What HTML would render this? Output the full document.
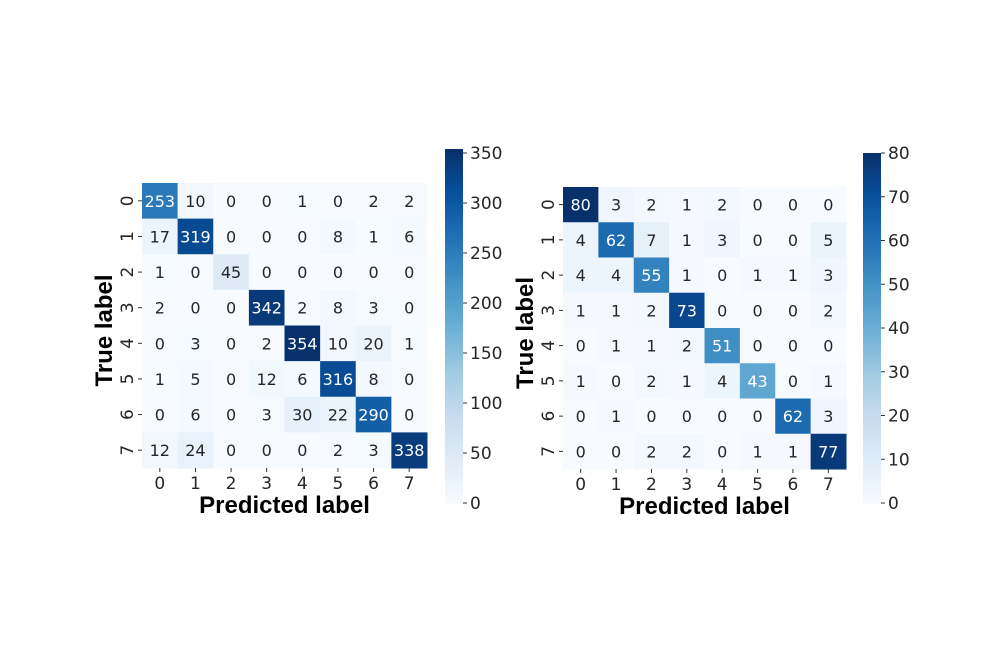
<!DOCTYPE html>
<html><head><meta charset="utf-8"><style>
html,body{margin:0;padding:0;background:#fff}
svg{display:block;font-family:"DejaVu Sans","Liberation Sans",sans-serif}
</style></head><body>
<svg id="c" width="996" height="664" viewBox="0 0 996 664"></svg>
<script>
const classes=[0,1,2,3,4,5,6,7];
const matrixA=[[253,10,0,0,1,0,2,2],[17,319,0,0,0,8,1,6],[1,0,45,0,0,0,0,0],[2,0,0,342,2,8,3,0],[0,3,0,2,354,10,20,1],[1,5,0,12,6,316,8,0],[0,6,0,3,30,22,290,0],[12,24,0,0,0,2,3,338]];
const matrixB=[[80,3,2,1,2,0,0,0],[4,62,7,1,3,0,0,5],[4,4,55,1,0,1,1,3],[1,1,2,73,0,0,0,2],[0,1,1,2,51,0,0,0],[1,0,2,1,4,43,0,1],[0,1,0,0,0,0,62,3],[0,0,2,2,0,1,1,77]];
const ticksA=[0,50,100,150,200,250,300,350];
const ticksB=[0,10,20,30,40,50,60,70,80];
const NS="http://www.w3.org/2000/svg";
const svg=document.getElementById('c');
const stops=["#f7fbff","#deebf7","#c6dbef","#9ecae1","#6baed6","#4292c6","#2171b5","#08519c","#08306b"];
function hx(h){return[1,3,5].map(i=>parseInt(h.substr(i,2),16));}
function cmap(t){t=Math.max(0,Math.min(1,t));const p=t*8,i=Math.min(7,Math.floor(p)),f=p-i;const a=hx(stops[i]),b=hx(stops[i+1]);return a.map((v,k)=>Math.round(v+(b[k]-v)*f));}
function el(tag,attrs,txt){const e=document.createElementNS(NS,tag);for(const k in attrs)e.setAttribute(k,attrs[k]);if(txt!==undefined)e.textContent=txt;svg.appendChild(e);return e;}
function draw(m,ticks,L,T,R,B,cbx,cbT,cbB,vmax,tag){
 const vmin=0;const cw=(R-L)/8,ch=(B-T)/8;
 const xs=i=>L+i*cw,ys=j=>T+j*ch;
 for(let r=0;r<8;r++)for(let c=0;c<8;c++){
  const v=m[r][c],col=cmap((v-vmin)/(vmax-vmin));
  const rc=el('rect',{x:xs(c),y:ys(r),width:cw+0.5,height:ch+0.5,fill:`rgb(${col})`});
  
  
  const lum=(0.2126*col[0]+0.7152*col[1]+0.0722*col[2])/255;
  const t=el('text',{x:xs(c)+cw/2,y:ys(r)+ch/2+6,'text-anchor':'middle','font-size':16,fill:lum<0.62?'#fff':'#262626'},v);
  
  
 }
 classes.forEach((k,i)=>{
  const cx=xs(i)+cw/2;
  el('line',{x1:cx,x2:cx,y1:B,y2:B+4,stroke:'#333','stroke-width':1});
  const tx=el('text',{x:cx,y:B+21,'text-anchor':'middle','font-size':17,fill:'#262626'},k);
  
  
  const cy=ys(i)+ch/2;
  el('line',{x1:L-4,x2:L,y1:cy,y2:cy,stroke:'#333','stroke-width':1});
  const ty=el('text',{x:0,y:0,'text-anchor':'middle','font-size':17,fill:'#262626',transform:`translate(${L-9},${cy}) rotate(-90)`},k);
  
  
 });
 const xt=el('text',{x:(L+R)/2,y:B+45,'text-anchor':'middle','font-size':24,'font-weight':'bold','font-family':'"Liberation Sans",sans-serif',fill:'#000'},'Predicted label');
 
 
 const yt=el('text',{x:0,y:0,'text-anchor':'middle','font-size':24,'font-weight':'bold','font-family':'"Liberation Sans",sans-serif',fill:'#000',transform:`translate(${L-30},${(T+B)/2+5}) rotate(-90)`},'True label');
 
 
 const n=120,h=(cbB-cbT)/n;
 for(let i=0;i<n;i++){const col=cmap(1-(i+0.5)/n);el('rect',{x:cbx,y:cbT+i*h,width:18,height:h+0.6,fill:`rgb(${col})`});}
 const cbv=v=>cbB-(v-vmin)/(vmax-vmin)*(cbB-cbT);
 ticks.forEach(v=>{const y=cbv(v);
  el('line',{x1:cbx+18,x2:cbx+22,y1:y,y2:y,stroke:'#333','stroke-width':1});
  const t=el('text',{x:cbx+25,y:y+6,'font-size':17,fill:'#262626'},v);
  
  
 });
}
draw(matrixA,ticksA,142,183,427,468,445,149,503,354,'left');
draw(matrixB,ticksB,563,187,846,469,863,153,503,80,'right');
</script>
</body></html>
